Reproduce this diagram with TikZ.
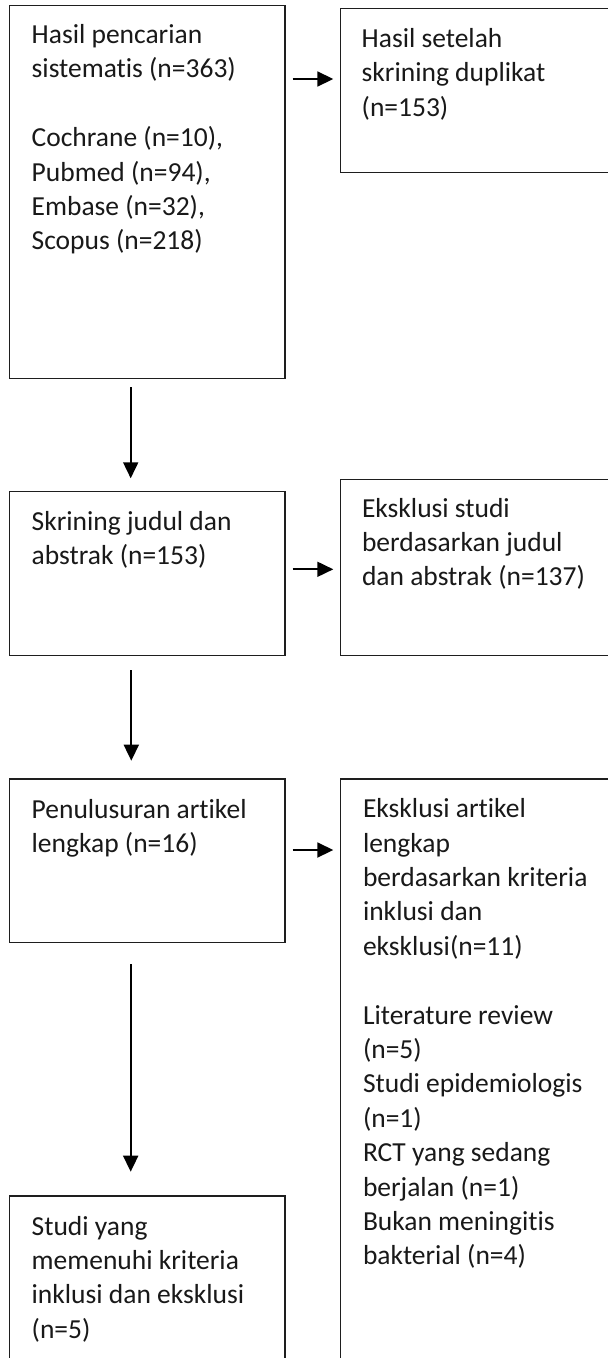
\documentclass[tikz,border=0pt]{standalone}
\usepackage{fontspec}
\setmainfont[Ligatures={CommonOff,ContextualOff}]{Carlito}
\usetikzlibrary{arrows.meta}
\definecolor{ink}{RGB}{25,25,25}
\definecolor{edge}{RGB}{30,30,30}
\tikzset{
  box/.style={draw=edge, line width=1.2pt, inner sep=0pt, outer sep=0pt, anchor=north west},
  txt/.style={inner sep=0pt, outer sep=0pt, anchor=base west, text=ink},
  arr/.style={draw=black, line width=1.8pt, -{Triangle[length=16pt,width=15pt]}},
}
\newcommand{\boxtext}[1]{\parbox[t]{250pt}{\fontsize{27.5pt}{34.4pt}\selectfont\raggedright\lineskiplimit=-20pt #1}}
\begin{document}
\begin{tikzpicture}[x=1pt,y=-1pt]
\useasboundingbox (0,0) rectangle (608,1358);
\fill[white] (0,0) rectangle (608,1358);
\clip (0,0) rectangle (608,1358);
% boxes
\node[box, minimum width=275.7pt, minimum height=372.6pt] (A) at (9.3,5.7) {};
\node[box, minimum width=275pt, minimum height=163.6pt] (B) at (340.5,8.7) {};
\node[box, minimum width=275.7pt, minimum height=164pt] (C) at (9.3,491.7) {};
\node[box, minimum width=275pt, minimum height=176.4pt] (D) at (340.5,479.3) {};
\node[box, minimum width=275.7pt, minimum height=163.5pt] (E) at (9.3,779) {};
\node[box, minimum width=275pt, minimum height=590pt] (F) at (340.5,779) {};
\node[box, minimum width=275.7pt, minimum height=180pt] (G) at (9.3,1196) {};
% texts
\node[txt] (tA) at (31.7,43.5) {\boxtext{Hasil pencarian\\sistematis (n=363)\\\mbox{}\\Cochrane (n=10),\\Pubmed (n=94),\\Embase (n=32),\\Scopus (n=218)}};
\node[txt] (tB) at (361.7,47.5) {\boxtext{Hasil setelah\\skrining duplikat\\(n=153)}};
\node[txt] (tC) at (31.7,530) {\boxtext{Skrining judul dan\\abstrak (n=153)}};
\node[txt] (tD) at (362,517) {\boxtext{Eksklusi studi\\berdasarkan judul\\dan abstrak (n=137)}};
\node[txt] (tE) at (31.7,818) {\boxtext{Penulusuran artikel\\lengkap (n=16)}};
\node[txt] (tF) at (363,817.7) {\boxtext{Eksklusi artikel\\lengkap\\berdasarkan kriteria\\inklusi dan\\eksklusi(n=11)\\\mbox{}\\Literature review\\(n=5)\\Studi epidemiologis\\(n=1)\\RCT yang sedang\\berjalan (n=1)\\Bukan meningitis\\bakterial (n=4)}};
\node[txt] (tG) at (31.7,1235) {\boxtext{Studi yang\\memenuhi kriteria\\inklusi dan eksklusi\\(n=5)}};
% horizontal connectors
\draw[arr] ([shift={(7.7,73.3)}]A.north east) -- ([shift={(-7.2,70.3)}]B.north west);
\draw[arr] ([shift={(7.7,77.6)}]C.north east) -- ([shift={(-7.2,90)}]D.north west);
\draw[arr] ([shift={(7.7,71)}]E.north east) -- ([shift={(-7.2,71)}]F.north west);
% vertical connectors
\draw[arr] ([shift={(121.4,9)}]A.south west) -- ([shift={(121.4,-13.4)}]C.north west);
\draw[arr] ([shift={(122,14.3)}]C.south west) -- ([shift={(122,-18.3)}]E.north west);
\draw[arr] ([shift={(121.4,21.8)}]E.south west) -- ([shift={(121.4,-24.3)}]G.north west);
\end{tikzpicture}
\end{document}
